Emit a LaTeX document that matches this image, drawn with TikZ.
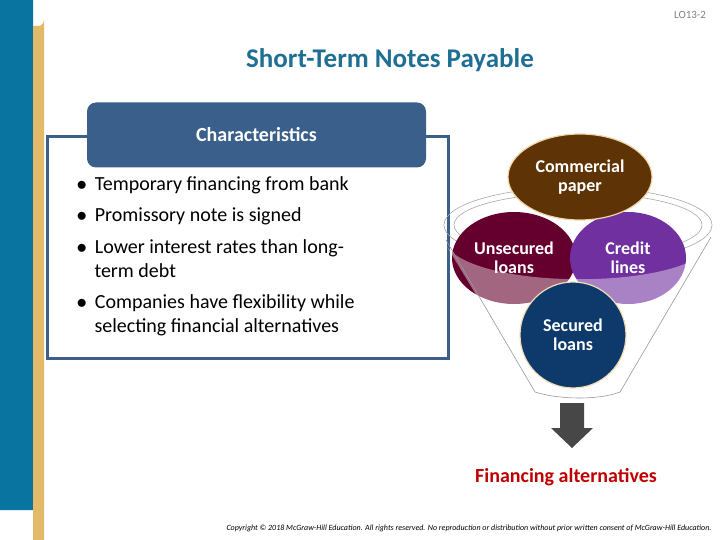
\documentclass[tikz,border=0pt]{standalone}
\usepackage{fontspec}
\setmainfont{Carlito}
\definecolor{tealbar}{HTML}{0A74A0}
\definecolor{goldbar}{HTML}{E3B96A}
\definecolor{titleblue}{HTML}{1F6F94}
\definecolor{framec}{HTML}{3A5F8A}
\definecolor{brownc}{HTML}{5E3406}
\definecolor{maroonc}{HTML}{65002E}
\definecolor{purplec}{HTML}{7030A0}
\definecolor{navyc}{HTML}{0D3A6B}
\definecolor{redc}{HTML}{C00000}
\begin{document}
\begin{tikzpicture}[x=1pt,y=-1pt,
  bubble/.style={draw=goldbar!50,line width=1.2pt,text=white,font=\fontsize{18}{19}\selectfont\bfseries,align=center,inner sep=0pt},
  btext/.style={text=white,font=\fontsize{18}{19}\selectfont\bfseries,align=center},
  bullet/.style={anchor=west,font=\fontsize{20}{24}\selectfont,align=left}]
\useasboundingbox (0,0) rectangle (720,540);
\fill[tealbar] (0,0) -- (25,0) arc[start angle=90,end angle=0,radius=8] -- (33,510) -- (0,510) -- cycle;
\fill[goldbar] (33,26) -- (38,26) arc[start angle=90,end angle=0,radius=6] -- (44,540) -- (33,540) -- cycle;
\node[text=gray,font=\fontsize{11}{12}\selectfont] (lo) at (690,15) {LO13-2};
\node[text=titleblue,font=\fontsize{27}{30}\selectfont\bfseries] (title) at (390,60) {Short-Term Notes Payable};
\draw[framec,line width=3pt] (47,137) rectangle (448,358);
\node[fill=framec,rounded corners=9pt,minimum width=339pt,minimum height=65pt,text=white,font=\fontsize{20}{24}\selectfont\bfseries,inner sep=0pt] (char) at (256.5,135) {Characteristics};
\node[bullet] (b1) at (73,185) {$\bullet$\hspace{8pt}Temporary financing from bank};
\node[bullet] (b2) at (73,216) {$\bullet$\hspace{8pt}Promissory note is signed};
\node[bullet] (b3) at (73,259) {$\bullet$\hspace{8pt}Lower interest rates than long-\\\hspace{18pt}term debt};
\node[bullet] (b4) at (73,315) {$\bullet$\hspace{8pt}Companies have flexibility while\\\hspace{18pt}selecting financial alternatives};
% funnel back rim
\draw[gray!70,line width=0.6pt] (578,225) ellipse[x radius=134,y radius=38];
\draw[gray!70,line width=0.6pt] (578,225) ellipse[x radius=124,y radius=32];
% bubbles
\fill[maroonc] (514,258) ellipse[x radius=62,y radius=46];
\fill[purplec] (628,258) ellipse[x radius=58,y radius=46];
% funnel body overlay
\fill[white,opacity=0.4] (447,247) .. controls (480,290) and (680,290) .. (710,247) -- (710,250) -- (620,392) -- (535,392) -- (452,255) -- cycle;
\draw[gray!80,line width=0.6pt] (446,240) -- (535,392) .. controls (560,400) and (600,400) .. (620,392) -- (711,237);
\node[btext] (unst) at (514,258) {Unsecured\\loans};
\node[btext] (cred) at (628,258) {Credit\\lines};
\draw[fill=brownc,draw=goldbar!60,line width=1.2pt] (580,177) ellipse[x radius=72,y radius=43];
\node[btext] (comm) at (580,177) {Commercial\\paper};
\node[bubble,circle,fill=navyc,minimum size=106pt] (sec) at (573,335) {Secured\\loans};
\fill[black!72] (560,403) -- (584,403) -- (584,428) -- (593,428) -- (572,448) -- (551,428) -- (560,428) -- cycle;
\node[text=redc,font=\fontsize{20}{24}\selectfont\bfseries] (fin) at (566,477) {Financing alternatives};
\node[font=\fontsize{8}{9}\selectfont\itshape,anchor=east] (copy) at (715,528) {Copyright © 2018 McGraw-Hill Education. All rights reserved. No reproduction or distribution without prior written consent of McGraw-Hill Education.};
\end{tikzpicture}
\end{document}
